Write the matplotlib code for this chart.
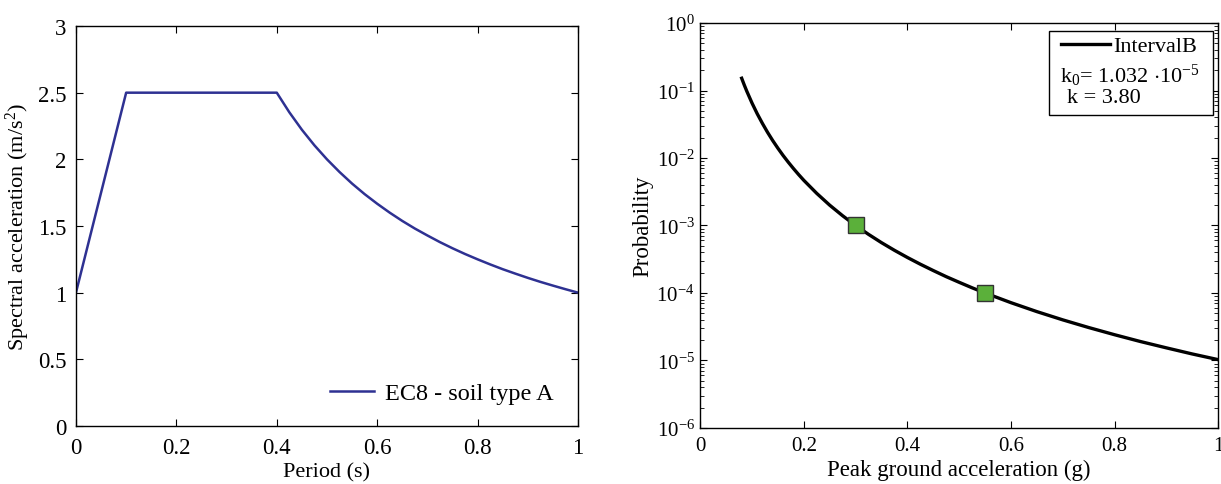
import numpy as np
import matplotlib
matplotlib.use('Agg')
import matplotlib.pyplot as plt
from matplotlib.patches import Rectangle
from matplotlib.ticker import LogLocator, NullFormatter

plt.rcParams['font.family'] = ['Liberation Serif', 'DejaVu Serif']
plt.rcParams['mathtext.fontset'] = 'custom'
plt.rcParams['mathtext.rm'] = 'Liberation Serif'
plt.rcParams['mathtext.it'] = 'Liberation Serif:italic'

# EC8 spectrum (left)
period = [0.0, 0.1, 0.4, 0.425, 0.45, 0.475, 0.5, 0.525, 0.55, 0.575, 0.6, 0.625, 0.65,
          0.675, 0.7, 0.725, 0.75, 0.775, 0.8, 0.825, 0.85, 0.875, 0.9, 0.925, 0.95,
          0.975, 1.0]
spec_acc = [1.0, 2.5, 2.5, 2.353, 2.222, 2.105, 2.0, 1.905, 1.818, 1.739, 1.667, 1.6,
            1.538, 1.481, 1.429, 1.379, 1.333, 1.290, 1.25, 1.212, 1.176, 1.143, 1.111,
            1.081, 1.053, 1.026, 1.0]

# hazard curve (right)
pga = [0.08, 0.085, 0.09, 0.1, 0.11, 0.12, 0.13, 0.14, 0.15, 0.16, 0.17, 0.18, 0.19, 0.2,
       0.225, 0.25, 0.275, 0.3, 0.325, 0.35, 0.375, 0.4, 0.425, 0.45, 0.475, 0.5, 0.525,
       0.55, 0.6, 0.65, 0.7, 0.75, 0.8, 0.85, 0.9, 0.95, 1.0]
prob = [0.152, 0.1207, 0.0972, 0.0651, 0.0453, 0.0326, 0.0240, 0.0181, 0.01394, 0.0109,
        0.00867, 0.00698, 0.00568, 0.00467, 0.00299, 0.00200, 0.001394, 0.00100, 7.39e-4,
        5.57e-4, 4.29e-4, 3.36e-4, 2.67e-4, 2.15e-4, 1.746e-4, 1.44e-4, 1.194e-4,
        1.0e-4, 7.19e-5, 5.30e-5, 4.00e-5, 3.08e-5, 2.41e-5, 1.91e-5, 1.54e-5, 1.25e-5,
        1.03e-5]
mark_pga = [0.3, 0.55]
mark_prob = [1e-3, 1e-4]

fig = plt.figure(figsize=(12.21, 4.85), dpi=100)
ax1 = fig.add_axes([0.0622, 0.1196, 0.4112, 0.8247])
ax2 = fig.add_axes([0.5735, 0.1155, 0.4241, 0.835])

for ax in (ax1, ax2):
    ax.tick_params(direction='in', which='both', top=True, right=True)
    ax.tick_params(which='major', length=5)
    ax.tick_params(which='minor', length=3)
    for s in ax.spines.values():
        s.set_linewidth(1.0)
ax1.tick_params(labelsize=16.5)
ax1.tick_params(axis='x', pad=8)
ax1.tick_params(axis='y', pad=7)
ax2.tick_params(labelsize=15)
ax2.tick_params(axis='x', pad=6)
ax2.tick_params(axis='y', pad=4)

ax1.plot(period, spec_acc, color='#2E3192', lw=1.8, label='EC8 - soil type A')
ax1.set_xlim(0, 1)
ax1.set_ylim(0, 3)
ax1.set_xticks(np.arange(0, 1.01, 0.2))
ax1.set_xticklabels(['0', '0.2', '0.4', '0.6', '0.8', '1'])
ax1.set_yticks(np.arange(0, 3.01, 0.5))
ax1.set_yticklabels(['0', '0.5', '1', '1.5', '2', '2.5', '3'])
ax1.set_xlabel('Period (s)', fontsize=16)
ax1.set_ylabel('Spectral acceleration (m/s$^2$)', fontsize=16)
ax1.xaxis.set_label_coords(0.5, -0.09)
ax1.yaxis.set_label_coords(-0.088, 0.5)
ax1.legend(loc='center left', bbox_to_anchor=(0.506, 0.082), frameon=False,
           fontsize=17.5, handlelength=1.8, handletextpad=0.45, borderpad=0,
           borderaxespad=0)

ax2.semilogy(pga, prob, color='black', lw=2.4, label='IntervalB')
ax2.plot(mark_pga, mark_prob, 's', color='#5BB03A', mec='#333333', mew=1.0, ms=11)
ax2.set_xlim(0, 1)
ax2.set_ylim(1e-6, 1)
ax2.set_xticks(np.arange(0, 1.01, 0.2))
ax2.set_xticklabels(['0', '0.2', '0.4', '0.6', '0.8', '1'])
ax2.yaxis.set_major_locator(LogLocator(base=10, numticks=10))
ax2.yaxis.set_minor_locator(LogLocator(base=10, subs=np.arange(2, 10), numticks=20))
ax2.yaxis.set_minor_formatter(NullFormatter())
ax2.set_xlabel('Peak ground acceleration (g)', fontsize=16.5)
ax2.set_ylabel('Probability', fontsize=16.5)
ax2.xaxis.set_label_coords(0.5, -0.076)
ax2.yaxis.set_label_coords(-0.09, 0.5)

# legend box with extra parameter lines
ax2.add_patch(Rectangle((0.674, 0.773), 0.316, 0.207, transform=ax2.transAxes,
                        facecolor='white', edgecolor='black', lw=1.0, zorder=5))
leg = ax2.legend(loc='center left', bbox_to_anchor=(0.696, 0.943), frameon=False,
                 fontsize=16, handlelength=2.2, handletextpad=0.15, borderpad=0,
                 borderaxespad=0)
leg.set_zorder(6)
ax2.text(0.694, 0.855, 'k$_0$= 1.032 $\\cdot$10$^{-5}$', transform=ax2.transAxes,
         fontsize=16, va='baseline', ha='left', zorder=7)
ax2.text(0.709, 0.805, 'k = 3.80', transform=ax2.transAxes,
         fontsize=16, va='baseline', ha='left', zorder=7)

fig.savefig('out.png', dpi=100)
